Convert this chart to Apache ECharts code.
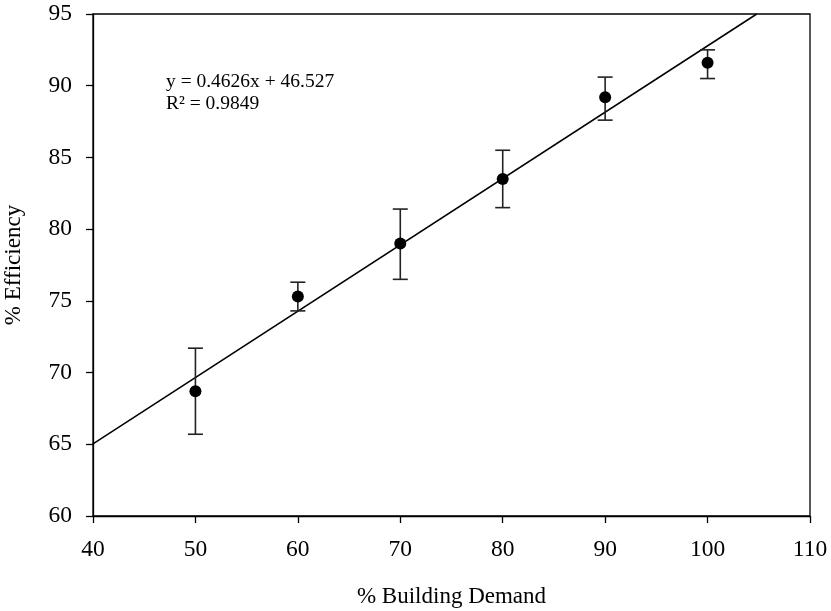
<!DOCTYPE html>
<html>
<head>
<meta charset="utf-8">
<script src="https://cdn.jsdelivr.net/npm/echarts@6/dist/echarts.min.js"></script>
<style>
  html, body { margin: 0; padding: 0; background: #fff; }
  #chart { width: 831px; height: 611px; }
</style>
</head>
<body>
<div id="chart"></div>
<script>
// 读图得到的数据
const demand = [50, 60, 70, 80, 90, 100]
const efficiency = [68.7, 75.3, 79.0, 83.5, 89.2, 91.6]
const errLow = [65.7, 74.3, 76.5, 81.5, 87.6, 90.5]
const errHigh = [71.7, 76.3, 81.4, 85.5, 90.6, 92.5]
// 趋势线两个端点 (y = 0.4626x + 46.527)
const trendX = [40, 104.8]
const trendY = [65.03, 95]
const fitText = ['y = 0.4626x + 46.527', 'R² = 0.9849']

const font = 'Liberation Serif, Times New Roman, serif'

let chart = echarts.init(document.getElementById('chart'))
chart.setOption({
  animation: false,
  grid: { left: 93, right: 21, top: 14, bottom: 95, outerBoundsMode: 'none', containLabel: false },
  xAxis: {
    type: 'value',
    min: 40, max: 110, interval: 10,
    name: '% Building Demand',
    nameLocation: 'middle',
    nameGap: 69,
    nameTextStyle: { fontFamily: font, fontSize: 23, color: '#000' },
    axisLine: { show: true, onZero: false, lineStyle: { color: '#000', width: 1.3 } },
    axisTick: { show: true, inside: false, length: 7, lineStyle: { color: '#000', width: 1.3 } },
    axisLabel: { fontFamily: font, fontSize: 23.5, color: '#000', margin: 22 },
    splitLine: { show: false }
  },
  yAxis: {
    type: 'value',
    min: 60, max: 95, interval: 5,
    name: '% Efficiency',
    nameLocation: 'middle',
    nameGap: 68,
    nameTextStyle: { fontFamily: font, fontSize: 23, color: '#000' },
    axisLine: { show: true, onZero: false, lineStyle: { color: '#000', width: 1.3 } },
    axisTick: { show: true, inside: false, length: 7, lineStyle: { color: '#000', width: 1.3 } },
    axisLabel: { fontFamily: font, fontSize: 23.5, color: '#000', margin: 21 },
    splitLine: { show: false }
  },
  graphic: [
    //右边和上边的边框
    {
      type: 'rect',
      shape: { x: 93, y: 14, width: 717, height: 502 },
      style: { fill: 'none', stroke: '#000', lineWidth: 1.3 },
      silent: true
    },
    {
      type: 'text',
      left: 166, top: 71,
      style: { text: fitText.join('\n'), font: '19.5px ' + font, fill: '#000', lineHeight: 22 }
    }
  ],
  series: [
    {
      //趋势线
      type: 'line',
      data: trendX.map((x, i) => [x, trendY[i]]),
      symbol: 'none',
      lineStyle: { color: '#000', width: 1.5 },
      z: 2
    },
    {
      //误差线
      type: 'custom',
      data: demand.map((x, i) => [x, errLow[i], errHigh[i]]),
      renderItem: function (params, api) {
        let lo = api.coord([api.value(0), api.value(1)])
        let hi = api.coord([api.value(0), api.value(2)])
        let w = 7.5
        let st = { stroke: '#222', lineWidth: 1.6 }
        return {
          type: 'group',
          children: [
            { type: 'line', shape: { x1: lo[0], y1: lo[1], x2: hi[0], y2: hi[1] }, style: st },
            { type: 'line', shape: { x1: lo[0] - w, y1: lo[1], x2: lo[0] + w, y2: lo[1] }, style: st },
            { type: 'line', shape: { x1: hi[0] - w, y1: hi[1], x2: hi[0] + w, y2: hi[1] }, style: st }
          ]
        }
      },
      z: 3
    },
    {
      //数据点
      type: 'scatter',
      data: demand.map((x, i) => [x, efficiency[i]]),
      symbol: 'circle',
      symbolSize: 12,
      itemStyle: { color: '#000', opacity: 1 },
      z: 4
    }
  ]
})
</script>
</body>
</html>
